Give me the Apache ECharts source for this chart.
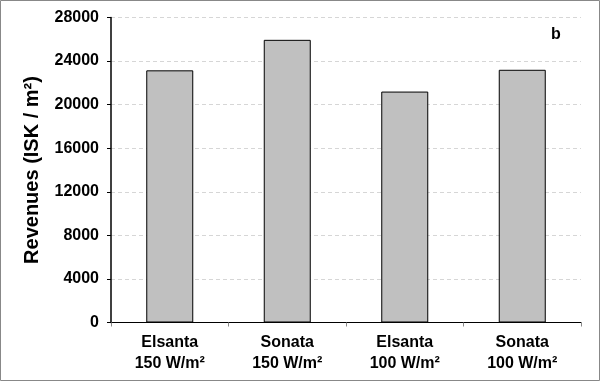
<!DOCTYPE html>
<html><head><meta charset="utf-8">
<script src="https://cdn.jsdelivr.net/npm/echarts@6/dist/echarts.min.js"></script>
<style>html,body{margin:0;padding:0;background:#fff}#c{width:601px;height:382px}</style>
</head><body><div id="c"></div>
<script>
const categories = ["Elsanta\n150 W/m²", "Sonata\n150 W/m²", "Elsanta\n100 W/m²", "Sonata\n100 W/m²"];
const revenues = [23150, 25950, 21200, 23200];
const yTicks = [0, 4000, 8000, 12000, 16000, 20000, 24000, 28000];
const panelLabel = "b";
const yTitle = "Revenues (ISK / m²)";

const chart = echarts.init(document.getElementById('c'), null, {renderer: 'canvas'});
const F = '"Liberation Sans", Arial, sans-serif';
chart.setOption({
  animation: false,
  grid: {left: 111, right: 20, top: 17.5, bottom: 59.5},
  graphic: [
    {type: 'rect', shape: {x: 0.5, y: 0.5, width: 599, height: 380}, style: {fill: null, stroke: '#888', lineWidth: 1}, silent: true},
    {type: 'text', left: 551, top: 27, style: {text: panelLabel, font: 'bold 16px ' + F, fill: '#000'}}
  ],
  xAxis: {
    type: 'category', data: categories,
    axisLine: {lineStyle: {color: '#000', width: 1}},
    axisTick: {show: true, length: 4, lineStyle: {color: '#888'}, alignWithLabel: false},
    axisLabel: {fontFamily: F, fontWeight: 'bold', fontSize: 16, color: '#000', lineHeight: 21, margin: 10}
  },
  yAxis: {
    type: 'value', min: yTicks[0], max: yTicks[yTicks.length - 1], interval: 4000,
    name: yTitle, nameLocation: 'middle', nameGap: 69,
    nameTextStyle: {fontFamily: F, fontWeight: 'bold', fontSize: 20, color: '#000'},
    axisLine: {show: true, lineStyle: {color: '#000', width: 1.5}},
    axisTick: {show: true, length: 4, lineStyle: {color: '#000'}},
    axisLabel: {fontFamily: F, fontWeight: 'bold', fontSize: 16, color: '#000', margin: 12,
      formatter: v => String(v)},
    splitLine: {show: true, lineStyle: {color: '#d6d6d6', type: [4, 3], width: 1}}
  },
  series: [{
    type: 'bar', data: revenues, barWidth: 47,
    itemStyle: {color: '#c0c0c0', borderColor: '#000', borderWidth: 1}
  }]
});
</script></body></html>
